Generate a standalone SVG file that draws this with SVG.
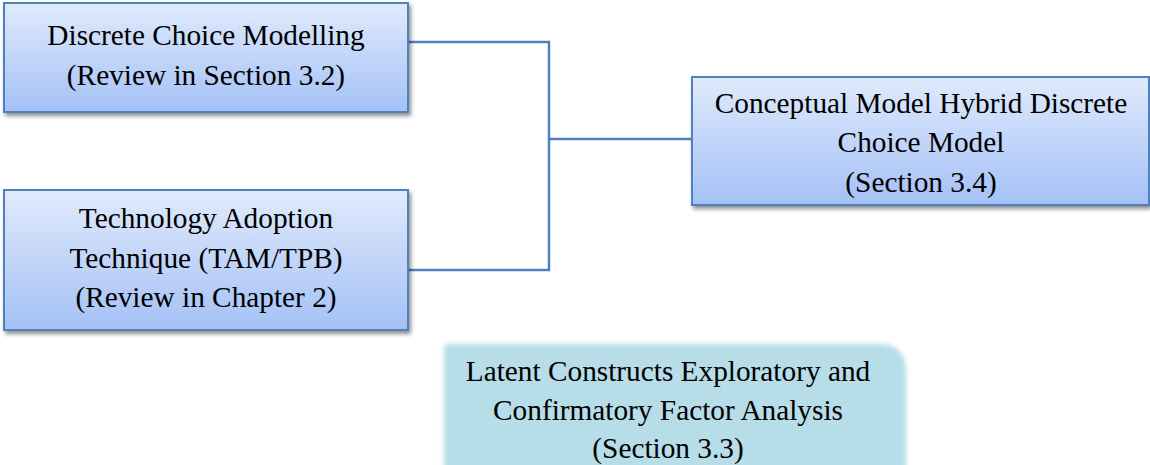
<svg xmlns="http://www.w3.org/2000/svg" width="1150" height="465" viewBox="0 0 1150 465">
  <defs>
    <linearGradient id="blueFill" x1="0" y1="0" x2="0" y2="1">
      <stop offset="0" stop-color="#e0eafc"/>
      <stop offset="1" stop-color="#a4c1f6"/>
    </linearGradient>
    <filter id="shadow" x="-5%" y="-10%" width="112%" height="125%">
      <feGaussianBlur in="SourceAlpha" stdDeviation="2"/>
      <feOffset dx="2" dy="3" result="off"/>
      <feComponentTransfer><feFuncA type="linear" slope="0.45"/></feComponentTransfer>
      <feMerge><feMergeNode/><feMergeNode in="SourceGraphic"/></feMerge>
    </filter>
    <filter id="soft" x="-5%" y="-10%" width="110%" height="130%">
      <feGaussianBlur stdDeviation="2.5"/>
    </filter>
    <style>
      .box { fill: url(#blueFill); stroke: #4f81bd; stroke-width: 2; }
      .wire { fill: none; stroke: #4f81bd; stroke-width: 2.5; }
      .label { font-family: "Liberation Serif", "Times New Roman", serif; font-size: 29.3px; fill: #000; text-anchor: middle; }
    </style>
  </defs>

  <!-- connectors joining the two inputs to the conceptual model -->
  <g id="connectors">
    <polyline class="wire" points="408,42 549,42 549,270 408,270"/>
    <line class="wire" x1="549" y1="139" x2="692" y2="139"/>
  </g>

  <g id="discrete-choice">
    <rect class="box" x="4" y="3" width="404" height="109" filter="url(#shadow)"/>
    <text class="label" x="206" y="45">Discrete Choice Modelling</text>
    <text class="label" x="206" y="85">(Review in Section 3.2)</text>
  </g>

  <g id="technology-adoption">
    <rect class="box" x="4" y="190" width="404" height="140" filter="url(#shadow)"/>
    <text class="label" x="206" y="228">Technology Adoption</text>
    <text class="label" x="206" y="268">Technique (TAM/TPB)</text>
    <text class="label" x="206" y="307">(Review in Chapter 2)</text>
  </g>

  <g id="conceptual-model">
    <rect class="box" x="692" y="77" width="457" height="128" filter="url(#shadow)"/>
    <text class="label" x="921" y="113">Conceptual Model Hybrid Discrete</text>
    <text class="label" x="921" y="152">Choice Model</text>
    <text class="label" x="921" y="192">(Section 3.4)</text>
  </g>

  <g id="latent-constructs">
    <path d="M448,344 H880 Q906,344 906,372 V480 H444 V348 Q444,344 448,344 Z" fill="#b6dde8" filter="url(#soft)"/>
    <text class="label" x="668" y="381">Latent Constructs Exploratory and</text>
    <text class="label" x="668" y="420">Confirmatory Factor Analysis</text>
    <text class="label" x="668" y="458">(Section 3.3)</text>
  </g>
</svg>
